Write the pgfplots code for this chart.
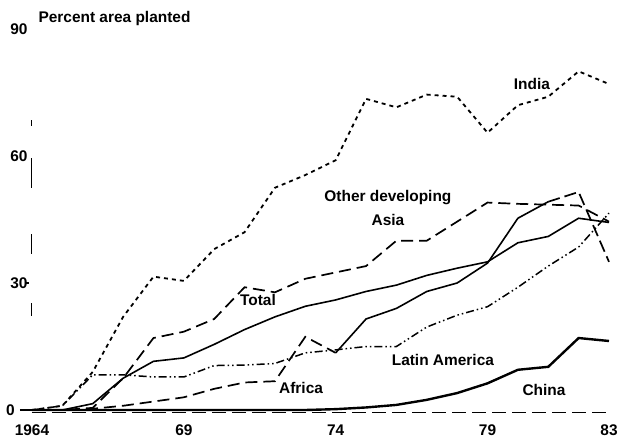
\documentclass[border=0pt]{standalone}
\usepackage{pgfplots}
\pgfplotsset{compat=1.18}
\usepackage{pgfplotstable}
\usepackage{fontspec}
\setmainfont{Liberation Sans}
\pgfplotstableread{
year india total asia latam china
1964 0 0 0 0 0
1965 1 0 0 1 0
1966 9 1.5 0.5 8.3 0
1967 22 7.5 7.5 8.3 0
1968 31.5 11.5 17 7.8 0
1969 30.5 12.3 18.5 7.8 0
1970 38 15.5 21.5 10.5 0
1971 42 19 29 10.6 0
1972 52.5 22 27.8 11 0
1973 55.5 24.5 31 13.5 0
1974 59 26 32.5 14.2 0.2
1975 73.5 28 34 15 0.6
1976 71.5 29.5 40 15 1.2
1977 74.5 31.8 40 19.6 2.4
1978 74 33.5 44.5 22.4 4
1979 65.5 35 49 24.4 6.3
1980 72 39.5 48.7 29 9.5
1981 74 41 48.5 34 10.2
1982 80 45.3 48.3 38.5 17
1983 77 44.3 44.5 46.5 16.3
}\datatable
\pgfplotstableread{
year africa
1964 0
1965 0
1966 0.3
1967 1
1968 2
1969 3
1970 5
1971 6.5
1972 6.8
1973 17.3
1974 13.5
}\africaA
\pgfplotstableread{
year africa
1974 13.5
1975 21.5
1976 24
1977 28
1978 30
1979 34.7
1980 45.3
1981 49.2
}\africaB
\pgfplotstableread{
year africa
1981 49.2
1982 51.5
1983 35
}\africaC
\begin{document}
\begin{tikzpicture}
\path[use as bounding box] (-32bp,-33bp) rectangle (587bp,410bp);
\begin{axis}[
  at={(0,0)}, anchor=south west,
  scale only axis, width=577bp, height=381bp,
  xmin=0, xmax=19, ymin=0, ymax=90,
  axis x line=bottom, axis y line=left,
  axis line style={draw=none},
  clip=false,
  xtick={0,5,10,15,19},
  xticklabels={1964,69,74,79,83},
  ytick={30,60,90},
  yticklabels={30,60,90},
  major tick length=0pt,
  tick style={draw=none},
  /pgf/number format/assume math mode=true,
  tick label style={font=\fontsize{15.5}{15.5}\selectfont\bfseries},
  xticklabel style={yshift=-11bp},
  yticklabel style={xshift=-1bp},
]
\addplot[black, line width=1.8bp, dash pattern=on 4bp off 4bp] table[x expr=\thisrow{year}-1964,y=india] {\datatable};
\addplot[black, line width=1.7bp, dash pattern=on 12bp off 6bp] table[x expr=\thisrow{year}-1964,y=asia] {\datatable};
\addplot[black, line width=1.6bp] table[x expr=\thisrow{year}-1964,y=total] {\datatable};
\addplot[black, line width=1.5bp, dash pattern=on 8bp off 3bp on 1.5bp off 3bp on 1.5bp off 3bp] table[x expr=\thisrow{year}-1964,y=latam] {\datatable};
\addplot[black, line width=1.7bp, dash pattern=on 12bp off 6bp] table[x expr=\thisrow{year}-1964,y=africa] {\africaA};
\addplot[black, line width=1.6bp] table[x expr=\thisrow{year}-1964,y=africa] {\africaB};
\addplot[black, line width=1.7bp, dash pattern=on 12bp off 5bp] table[x expr=\thisrow{year}-1964,y=africa] {\africaC};
\addplot[black, line width=2.4bp] table[x expr=\thisrow{year}-1964,y=china] {\datatable};
% axes
\draw[black, line width=2.4bp] (axis cs:-0.4,0) -- (axis cs:0,0);
\draw[black, line width=1bp, dash pattern=on 14bp off 6bp] (axis cs:0,-0.5) -- (axis cs:19,-0.5);
\draw[black, line width=1bp, dash pattern=on 6bp off 32bp on 30bp off 46bp on 20bp off 49bp on 13bp off 200bp] (axis cs:0,68.5) -- (axis cs:0,0);
\draw[black, line width=1.2bp] (axis cs:0,30) ++(-7bp,0) -- ++(4bp,0);
\node[anchor=east, font=\fontsize{15.5}{15.5}\selectfont\bfseries] at (axis cs:-0.45,0) {0};
% labels
\begin{scope}[every node/.append style={font=\fontsize{15.5}{15.5}\selectfont\bfseries}]
\node[anchor=west] at (axis cs:0.1,92.4) {Percent area planted};
\node at (axis cs:16.46,77.0) {India};
\node at (axis cs:11.72,50.1) {Other developing};
\node at (axis cs:11.72,44.9) {Asia};
\node at (axis cs:7.44,26.0) {Total};
\node at (axis cs:8.86,5.2) {Africa};
\node at (axis cs:13.53,11.8) {Latin America};
\node at (axis cs:16.86,4.7) {China};
\end{scope}
\end{axis}
\end{tikzpicture}
\end{document}
